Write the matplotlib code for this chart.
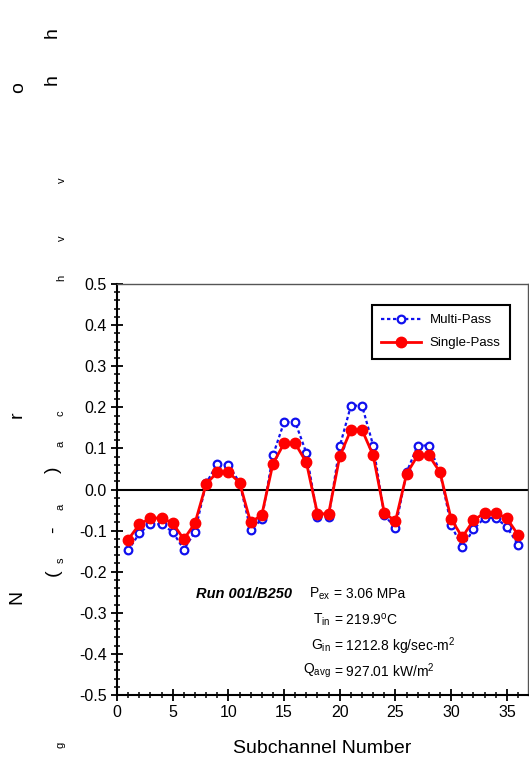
import matplotlib
matplotlib.use("Agg")
import matplotlib.pyplot as plt
from matplotlib.ticker import MultipleLocator
import numpy as np

subchannel = list(range(1, 37))
multi_pass = [-0.148, -0.107, -0.083, -0.085, -0.103, -0.146, -0.103, 0.015, 0.062, 0.060,
              0.017, -0.099, -0.072, 0.083, 0.164, 0.164, 0.089, -0.066, -0.066, 0.105,
              0.204, 0.204, 0.107, -0.063, -0.093, 0.042, 0.107, 0.107, 0.042, -0.087,
              -0.141, -0.097, -0.069, -0.069, -0.091, -0.134]
single_pass = [-0.122, -0.085, -0.070, -0.069, -0.082, -0.121, -0.082, 0.013, 0.042, 0.042,
               0.017, -0.080, -0.062, 0.063, 0.112, 0.112, 0.066, -0.059, -0.059, 0.081,
               0.145, 0.145, 0.083, -0.057, -0.077, 0.038, 0.083, 0.083, 0.042, -0.072,
               -0.116, -0.075, -0.057, -0.057, -0.070, -0.110]
y_ticks = [-0.5, -0.4, -0.3, -0.2, -0.1, 0.0, 0.1, 0.2, 0.3, 0.4, 0.5]
y_ticklabels = ['-0.5', '-0.4', '-0.3', '-0.2', '-0.1', '0.0', '0.1', '0.2', '0.3', '0.4', '0.5']

W, H = 529, 760
fig = plt.figure(figsize=(W / 100, H / 100), dpi=100)

def fx(x):
    return x / W

def fy(y):
    return 1 - y / H

arial = ['Liberation Sans', 'DejaVu Sans']
plt.rcParams['font.family'] = arial
plt.rcParams['mathtext.fontset'] = 'custom'
plt.rcParams['mathtext.rm'] = 'Liberation Sans'
plt.rcParams['mathtext.it'] = 'Liberation Sans:italic'

ax = fig.add_axes([fx(117), fy(695), (528 - 117) / W, (695 - 284) / H])

ax.plot(subchannel, multi_pass, color='#1010ee', linestyle=(0, (1.5, 1.2)), linewidth=1.6,
        marker='o', markersize=5.5, markerfacecolor='white', markeredgecolor='#1010ee',
        markeredgewidth=1.6, label='Multi-Pass', zorder=3)
ax.plot(subchannel, single_pass, color='#ff0000', linestyle='-', linewidth=2.0,
        marker='o', markersize=7.5, markerfacecolor='#ff0000', markeredgecolor='#ff0000',
        label='Single-Pass', zorder=4)

ax.axhline(0, color='black', linewidth=1.5, zorder=2)

ax.set_xlim(0, 36.9)
ax.set_ylim(-0.5, 0.5)
ax.xaxis.set_major_locator(MultipleLocator(5))
ax.xaxis.set_minor_locator(MultipleLocator(1))
ax.yaxis.set_minor_locator(MultipleLocator(0.02))
ax.set_yticks(y_ticks)
ax.set_yticklabels(y_ticklabels)
ax.tick_params(axis='both', which='major', direction='inout', length=9, width=1.3,
               labelsize=11.5, pad=3)
ax.tick_params(axis='both', which='minor', direction='inout', length=5, width=1.1)
ax.tick_params(top=False, right=False, which='both')

for s in ['left', 'bottom']:
    ax.spines[s].set_linewidth(1.5)
    ax.spines[s].set_color('black')
for s in ['top', 'right']:
    ax.spines[s].set_linewidth(1.0)
    ax.spines[s].set_color('#555555')

ax.set_xlabel('Subchannel Number', fontsize=14, labelpad=14)

leg = ax.legend(loc='upper right', bbox_to_anchor=(fx(510), fy(305)),
                bbox_transform=fig.transFigure, borderaxespad=0, fancybox=False,
                framealpha=1, edgecolor='black', prop={'family': arial, 'size': 9.5},
                handlelength=3.0, borderpad=0.7, labelspacing=0.8, handletextpad=0.7)
leg.get_frame().set_linewidth(1.5)

# annotation block
fig.text(fx(196), fy(594), 'Run 001/B250', fontsize=10.5, fontweight='bold', fontstyle='italic',
         family=arial, ha='left', va='center')
eq_x = 334
lines = [
    (594, r'P$_{\mathrm{ex}}$', '= 3.06 MPa'),
    (620, r'T$_{\mathrm{in}}$', r'= 219.9$^{\mathrm{o}}$C'),
    (646, r'G$_{\mathrm{in}}$', r'= 1212.8 kg/sec-m$^{\mathrm{2}}$'),
    (671, r'Q$_{\mathrm{avg}}$', r'= 927.01 kW/m$^{\mathrm{2}}$'),
]
for yy, left, right in lines:
    fig.text(fx(eq_x - 3), fy(yy), left, fontsize=10, family=arial, ha='right', va='center')
    fig.text(fx(eq_x), fy(yy), right, fontsize=10, family=arial, ha='left', va='center')

# stray rotated characters on the left
stray = [
    ('h', 52, 33, 14), ('h', 52, 80, 14), ('o', 19, 88, 14),
    ('v', 62, 180, 8), ('v', 62, 238, 8), ('h', 61, 278, 8),
    ('r', 17, 415, 14), ('c', 61, 413, 8), ('a', 61, 444, 8),
    (')', 53, 470, 14), ('a', 61, 507, 8), ('-', 53, 530, 14),
    ('s', 61, 560, 8), ('(', 53, 573, 14), ('N', 17, 597, 14),
    ('g', 61, 745, 8),
]
for ch, x, y, fs in stray:
    fig.text(fx(x), fy(y), ch, rotation=90, fontsize=fs, family=arial,
             ha='center', va='center')

fig.savefig('out.png', dpi=100)
